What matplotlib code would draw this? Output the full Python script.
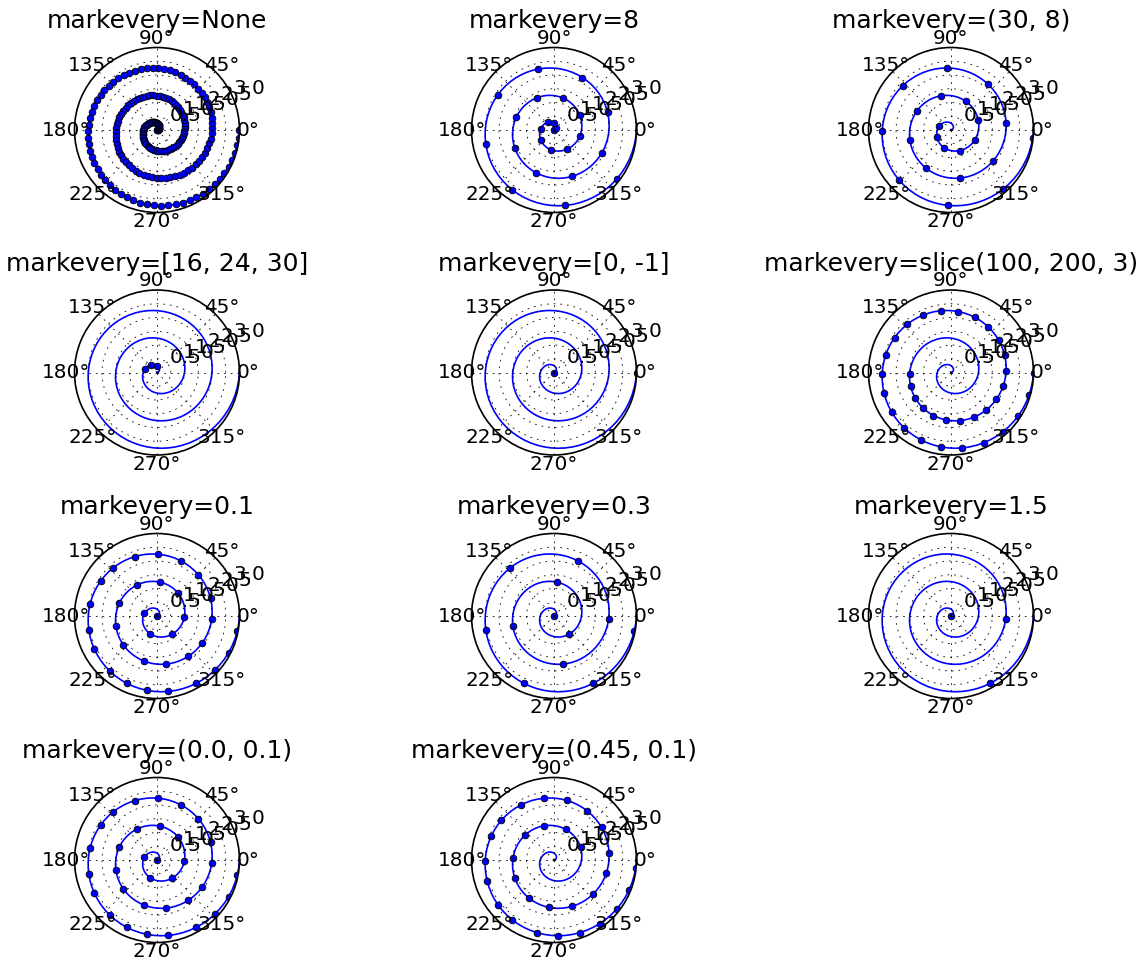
import numpy as np
import matplotlib.pyplot as plt

plt.style.use('classic')

# markevery settings, one per subplot
cases = [None, 8, (30, 8), [16, 24, 30], [0, -1], slice(100, 200, 3),
         0.1, 0.3, 1.5, (0.0, 0.1), (0.45, 0.1)]

# spiral: radius 0..3 over 200 samples, one turn per unit of radius
r_max = 3.0
n_points = 200
r = np.linspace(0, r_max, n_points)
theta = 2 * np.pi * r

W, H = 1140, 960
cols = 3
col_x = [157, 554, 951]          # axis centres in pixels
row_y = [130, 372.5, 616, 860]
rad = 82.5

fig = plt.figure(figsize=(W / 120, H / 120), dpi=120)
for i, case in enumerate(cases):
    cx = col_x[i % cols]
    cy = row_y[i // cols]
    rect = [(cx - rad) / W, (H - cy - rad) / H, 2 * rad / W, 2 * rad / H]
    ax = fig.add_axes(rect, projection='polar')
    ax.set_title('markevery=%s' % str(case), fontsize=15, pad=11.5)
    ax.plot(theta, r, 'o', ls='-', ms=4, markevery=case)
    ax.tick_params(axis='x', pad=-1.6, labelsize=12)
    ax.tick_params(axis='y', labelsize=12)

fig.savefig('out.png', dpi=120)
